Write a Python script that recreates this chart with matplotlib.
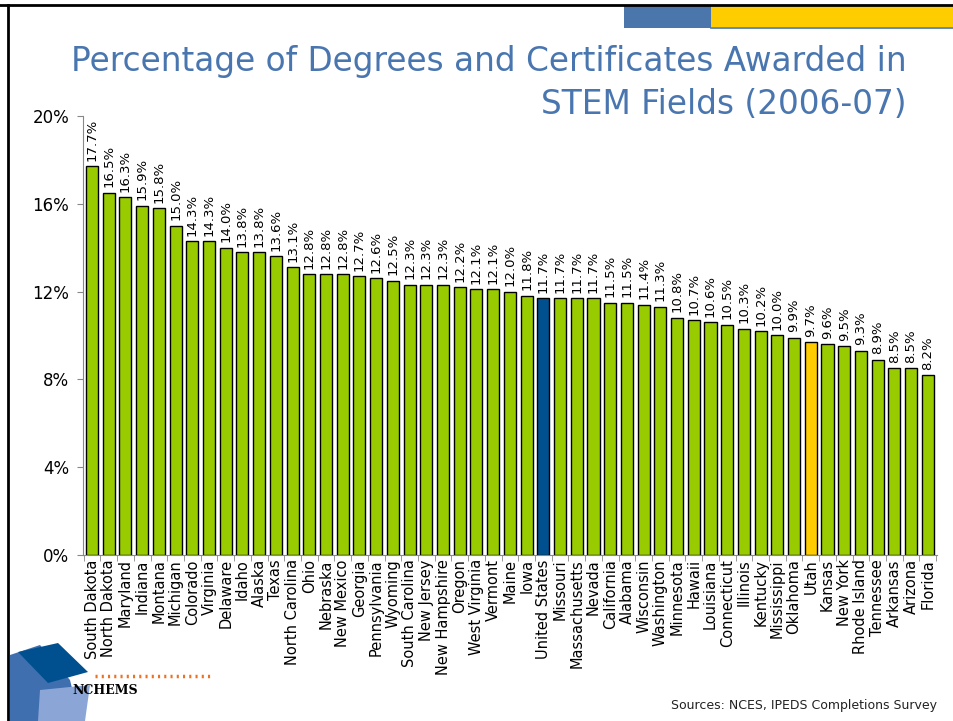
import numpy as np
import matplotlib.pyplot as plt
from matplotlib.patches import Rectangle, Polygon

states = ["South Dakota", "North Dakota", "Maryland", "Indiana", "Montana", "Michigan",
          "Colorado", "Virginia", "Delaware", "Idaho", "Alaska", "Texas", "North Carolina",
          "Ohio", "Nebraska", "New Mexico", "Georgia", "Pennsylvania", "Wyoming",
          "South Carolina", "New Jersey", "New Hampshire", "Oregon", "West Virginia",
          "Vermont", "Maine", "Iowa", "United States", "Missouri", "Massachusetts",
          "Nevada", "California", "Alabama", "Wisconsin", "Washington", "Minnesota",
          "Hawaii", "Louisiana", "Connecticut", "Illinois", "Kentucky", "Mississippi",
          "Oklahoma", "Utah", "Kansas", "New York", "Rhode Island", "Tennessee",
          "Arkansas", "Arizona", "Florida"]
pct = [17.7, 16.5, 16.3, 15.9, 15.8, 15.0, 14.3, 14.3, 14.0, 13.8, 13.8, 13.6, 13.1,
       12.8, 12.8, 12.8, 12.7, 12.6, 12.5, 12.3, 12.3, 12.3, 12.2, 12.1, 12.1, 12.0,
       11.8, 11.7, 11.7, 11.7, 11.7, 11.5, 11.5, 11.4, 11.3, 10.8, 10.7, 10.6, 10.5,
       10.3, 10.2, 10.0, 9.9, 9.7, 9.6, 9.5, 9.3, 8.9, 8.5, 8.5, 8.2]
yticks = [0, 4, 8, 12, 16, 20]

green = "#99cc00"
colors = [green] * len(states)
colors[states.index("United States")] = "#00508f"
colors[states.index("Utah")] = "#ffcc00"

fig = plt.figure(figsize=(9.54, 7.21), dpi=100)

# slide decorations
deco = fig.add_axes([0, 0, 1, 1])
deco.set_xlim(0, 954)
deco.set_ylim(721, 0)
deco.axis("off")
deco.plot([0, 954], [5, 5], color="black", lw=2)
deco.plot([8, 8], [5, 721], color="black", lw=2)
deco.add_patch(Rectangle((624, 6), 87, 22, color="#4a76ab", lw=0))
deco.add_patch(Rectangle((711, 6), 243, 21, color="#ffcc00", lw=0))
deco.plot([711, 954], [28, 28], color="#4a76ab", lw=1.2)
# logo
deco.add_patch(Polygon([[10, 655], [40, 645], [70, 680], [80, 721], [10, 721]], color="#3f6fae", lw=0))
deco.add_patch(Polygon([[40, 690], [90, 685], [85, 721], [38, 721]], color="#8aa5d6", lw=0))
deco.add_patch(Polygon([[18, 652], [58, 643], [88, 672], [48, 683]], color="#00508f", lw=0))
deco.plot([95, 212], [676, 676], color="#f07020", lw=2.5, ls=(0, (0.6, 1.2)))
deco.text(72, 690, "NCHEMS", fontsize=9, fontweight="bold", family="DejaVu Serif",
          color="black", va="center", ha="left")

fig.text(907, 62, "Percentage of Degrees and Certificates Awarded in",
         transform=deco.transData, ha="right", va="center", fontsize=23.6, color="#4a76b0")
fig.text(907, 105, "STEM Fields (2006-07)", transform=deco.transData,
         ha="right", va="center", fontsize=23.6, color="#4a76b0")
fig.text(937, 706, "Sources: NCES, IPEDS Completions Survey", transform=deco.transData,
         ha="right", va="center", fontsize=9, color="#222222")

ax = fig.add_axes([0.087, 0.2302, 0.895, 0.609])
x = np.arange(len(states))
ax.bar(x, pct, width=0.72, color=colors, edgecolor="black", linewidth=1)
for xi, v in zip(x, pct):
    ax.text(xi, v + 0.25, f"{v:.1f}%", rotation=90, ha="center", va="bottom", fontsize=9.5)

ax.set_xlim(-0.54, len(states) - 0.46)
ax.set_ylim(0, 20)
ax.set_yticks(yticks)
ax.set_yticklabels([f"{t}%" for t in yticks], fontsize=12)
ax.set_xticks(x)
ax.set_xticklabels(states, rotation=90, fontsize=10.5)
ax.tick_params(axis="x", length=0, pad=3)
ax.set_xticks(np.arange(-0.5, len(states), 1), minor=True)
ax.tick_params(axis="x", which="minor", length=4, color="#888888")
ax.tick_params(axis="y", length=4, color="#888888", pad=6)
for s in ["top", "right"]:
    ax.spines[s].set_visible(False)
ax.spines["left"].set_color("#888888")
ax.spines["bottom"].set_color("#888888")

fig.savefig("out.png", dpi=100)
